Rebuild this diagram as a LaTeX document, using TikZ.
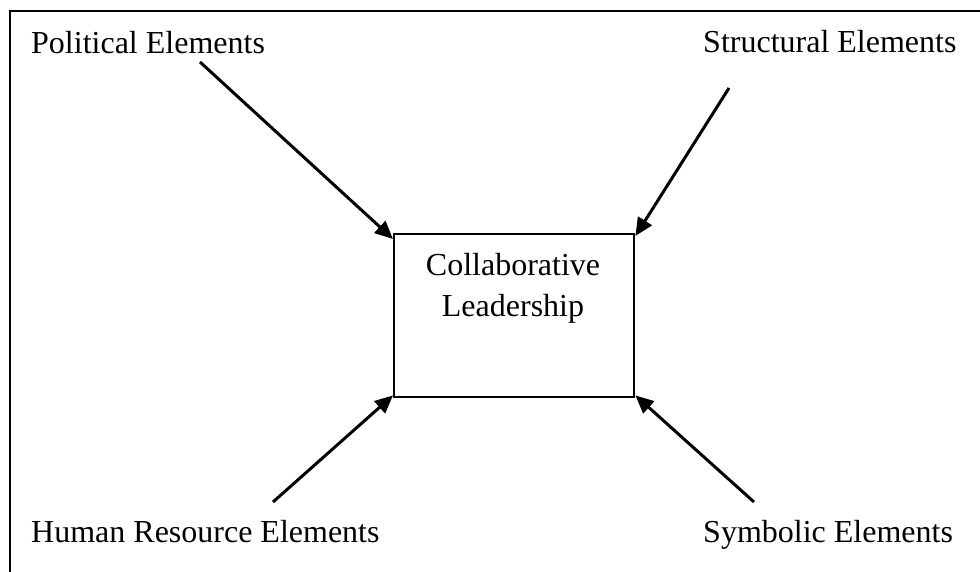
\documentclass[tikz,border=0pt]{standalone}
\usepackage{fontspec}
\setmainfont{Liberation Serif}
\usetikzlibrary{arrows.meta}
\begin{document}
\begin{tikzpicture}[x=1pt,y=-1pt,
  lbl/.style={font=\fontsize{32}{41}\selectfont, inner sep=0pt, anchor=base west},
  conn/.style={line width=3pt, -{Triangle[length=18pt,width=16pt]}},
  frame/.style={line width=2.4pt}]
\useasboundingbox (0,0) rectangle (980,572);
\draw[frame] (10,572) -- (10,11) -- (980,11);
\node[draw, line width=2.4pt, minimum width=240pt, minimum height=163pt, inner sep=0pt, anchor=north west] (box) at (393,233) {};
\node[lbl, anchor=base, align=center] (cl) at (513,316) {Collaborative\\Leadership};
\node[lbl] (pol) at (31,53.5) {Political Elements};
\node[lbl] (str) at (703,53) {Structural Elements};
\node[lbl] (hum) at (31,542.5) {Human Resource Elements};
\node[lbl] (sym) at (703,542) {Symbolic Elements};
\coordinate (ps) at (200,62);
\coordinate (ss) at (729,88);
\coordinate (hs) at (273,502);
\coordinate (ys) at (754,502);
\draw[conn] (ps) -- ([yshift=-6pt]box.north west);
\draw[conn] (ss) -- ([yshift=-3pt]box.north east);
\draw[conn] (hs) -- ([yshift=3pt]box.south west);
\draw[conn] (ys) -- ([yshift=3pt]box.south east);
\end{tikzpicture}
\end{document}
